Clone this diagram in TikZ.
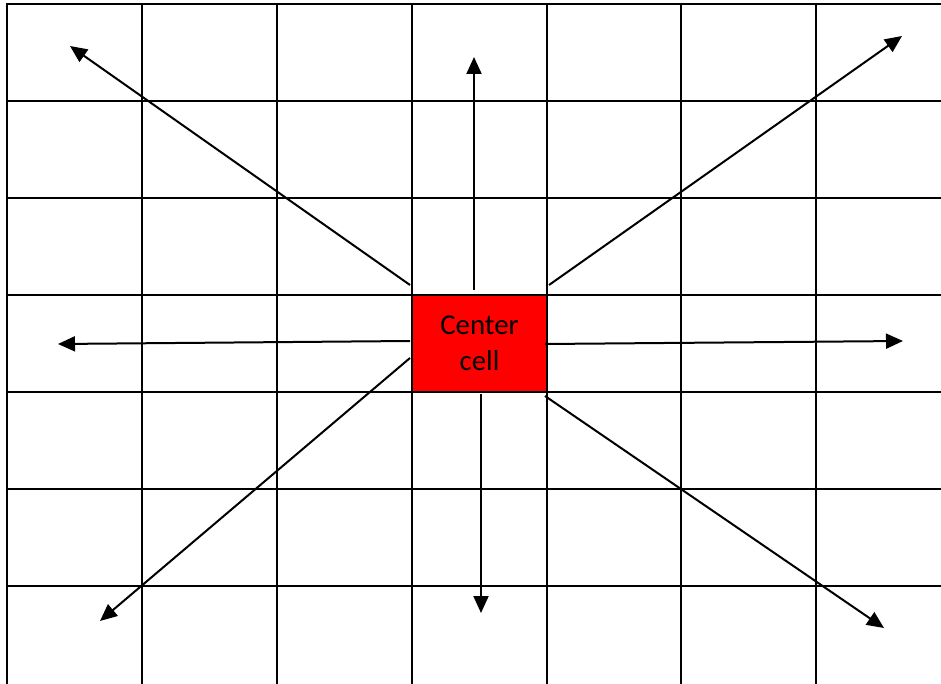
\documentclass[tikz,border=0pt]{standalone}
\usepackage{fontspec}
\setmainfont{Carlito}
\usetikzlibrary{arrows.meta}
\begin{document}
\begin{tikzpicture}[x=1pt,y=-1pt,
  gridline/.style={line width=2pt,black},
  ray/.style={line width=2pt,black,-{Triangle[length=17pt,width=15pt]}},
  cellbox/.style={draw=black,line width=2pt,fill=red,minimum width=135pt,minimum height=97pt,inner sep=0pt,
    font=\fontsize{28.8}{35.5}\selectfont,align=center}]
\useasboundingbox (0,0) rectangle (941,684);
\foreach \x in {7,142,277,412,547,681,816} \draw[gridline] (\x,3) -- (\x,684);
\foreach \y in {4,101,198,295,392,489,586} \draw[gridline] (6,\y) -- (941,\y);
\node[cellbox] (center) at (479.5,343.5) {Center\\cell};
\coordinate (sU) at (474,290); \coordinate (tU) at (474,57);
\coordinate (sD) at (481,394); \coordinate (tD) at (481,613);
\coordinate (sL) at (410,341); \coordinate (tL) at (58,344);
\coordinate (sR) at (545,344); \coordinate (tR) at (903,341);
\coordinate (sUL) at (410,285); \coordinate (tUL) at (70,46);
\coordinate (sUR) at (549,285); \coordinate (tUR) at (902,36);
\coordinate (sDL) at (410,358); \coordinate (tDL) at (100,621);
\coordinate (sDR) at (545,396); \coordinate (tDR) at (884,628);
\foreach \d in {U,D,L,R,UL,UR,DL,DR} \draw[ray] (s\d) -- (t\d);
\end{tikzpicture}
\end{document}
